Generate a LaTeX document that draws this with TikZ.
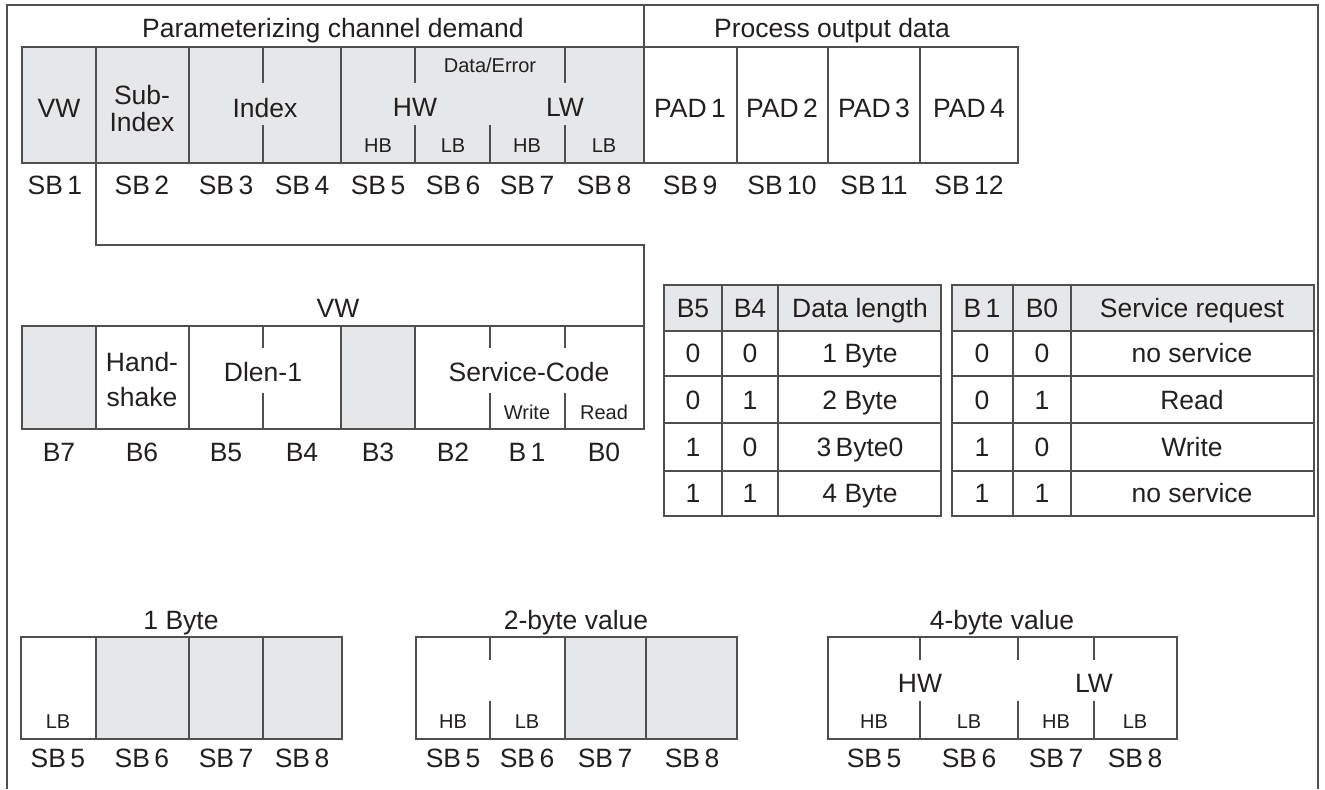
\documentclass[tikz,border=0pt]{standalone}
\usepackage{fontspec}
\setmainfont{Liberation Sans}
\definecolor{linegrey}{HTML}{4F4F4F}
\definecolor{cellgrey}{HTML}{E6E7E8}
\definecolor{ink}{HTML}{231F20}

\begin{document}
\begin{tikzpicture}[
  x=0.5pt, y=-0.5pt,
  every node/.style={inner sep=0pt, text=ink, font=\fontsize{13.25}{16}\selectfont,
    text height=9.5pt, text depth=0pt},
  small/.style={font=\fontsize{10}{12}\selectfont, text height=7.2pt},
  wire/.style={draw=linegrey, line width=0.6pt},
  shade/.style={fill=cellgrey}
]
  \useasboundingbox (0,0) rectangle (1325,789);
  % outer frame
  \draw[wire] (7,789) -- (7,5) -- (1318,5) -- (1318,789);
  \draw[wire] (644,5) -- (644,47);
  \node (hpar) at (333,28) {Parameterizing channel demand};
  \node (hpad) at (832,28) {Process output data};

  % parameterizing channel
  \filldraw[wire, shade] (22,47) rectangle (644,163);
  \foreach \x in {96,189,341} \draw[wire] (\x,47) -- (\x,163);
  \foreach \x in {263,415,565} \draw[wire] (\x,47) -- (\x,83);
  \foreach \x in {263,415,490,565} \draw[wire] (\x,125) -- (\x,163);
  \node (pvw) at (59,108) {VW};
  \node (psub) at (142,95) {Sub-};
  \node (psubidx) at (142,122) {Index};
  \node (pidx) at (265,108) {Index};
  \node[small] (pdata) at (490,65) {Data/Error};
  \node (phw) at (415,107) {HW};
  \node (plw) at (565,107) {LW};
  \foreach \x/\t [count=\i] in {378/HB,453/LB,527/HB,604/LB}
    \node[small] (pbyte\i) at (\x,145) {\t};

  % process output data
  \draw[wire] (644,47) rectangle (1018,163);
  \foreach \x in {737,828,920} \draw[wire] (\x,47) -- (\x,163);
  \foreach \x [count=\i] in {690,782,874,969}
    \node (pad\i) at (\x,108) {PAD\,\i};

  \foreach \x [count=\i] in {55,142,226,302,378,453,527,604,690,782,874,969}
    \node (sb\i) at (\x,185) {SB\,\i};

  % VW detail
  \coordinate (hook) at (96,163);
  \coordinate (bend) at (96,245);
  \coordinate (vwcorner) at (644,326);
  \draw[wire] (hook) -- (bend) -| (vwcorner);
  \node (vwhead) at (338,308) {VW};
  \draw[wire] (22,326) rectangle (644,429);
  \filldraw[wire, shade] (22,326) rectangle (96,429);
  \filldraw[wire, shade] (341,326) rectangle (415,429);
  \draw[wire] (189,326) -- (189,429);
  \foreach \x in {263,490,565} {
    \draw[wire] (\x,326) -- (\x,348);
    \draw[wire] (\x,393) -- (\x,429);
  }
  \node (hand) at (142,362) {Hand-};
  \node (shake) at (142,397) {shake};
  \node (dlen) at (263,372) {Dlen-1};
  \node (scode) at (529,372) {Service-Code};
  \node[small] (wr) at (527,412) {Write};
  \node[small] (rd) at (604,412) {Read};
  \foreach \x/\t in {59/7,142/6,226/5,302/4,378/3,453/2,527/\,1,604/0}
    \node (bit\x) at (\x,452) {B\t};

  % data length table
  \filldraw[wire, shade] (664,285) rectangle (941,331);
  \draw[wire] (664,285) rectangle (941,516);
  \foreach \y in {376,423,471} \draw[wire] (664,\y) -- (941,\y);
  \foreach \x in {722,778} \draw[wire] (\x,285) -- (\x,516);
  \node (dla) at (693,308) {B5};
  \node (dlb) at (750,308) {B4};
  \node (dlc) at (860,308) {Data length};
  \foreach \y/\a/\b/\c [count=\r] in {353/0/0/1 Byte,400/0/1/2 Byte,447/1/0/3\,Byte0,493/1/1/4 Byte} {
    \node (dl\r a) at (693,\y) {\a};
    \node (dl\r b) at (750,\y) {\b};
    \node (dl\r c) at (860,\y) {\c};
  }

  % service request table
  \filldraw[wire, shade] (952,285) rectangle (1314,331);
  \draw[wire] (952,285) rectangle (1314,516);
  \foreach \y in {376,423,471} \draw[wire] (952,\y) -- (1314,\y);
  \foreach \x in {1013,1071} \draw[wire] (\x,285) -- (\x,516);
  \node (sra) at (982,308) {B\,1};
  \node (srb) at (1042,308) {B0};
  \node (src) at (1192,308) {Service request};
  \foreach \y/\a/\b/\c [count=\r] in {353/0/0/no service,400/0/1/Read,447/1/0/Write,493/1/1/no service} {
    \node (sr\r a) at (982,\y) {\a};
    \node (sr\r b) at (1042,\y) {\b};
    \node (sr\r c) at (1192,\y) {\c};
  }

  % 1 byte
  \node (onehead) at (181,620) {1 Byte};
  \filldraw[wire, shade] (96,637) rectangle (342,739);
  \draw[wire] (21,637) rectangle (342,739);
  \foreach \x in {189,263} \draw[wire] (\x,637) -- (\x,739);
  \node[small] (onelb) at (58,721) {LB};
  \foreach \x [count=\i from 5] in {58,142,226,302}
    \node (onesb\i) at (\x,758) {SB\,\i};

  % 2 byte
  \node (twohead) at (576,620) {2-byte value};
  \filldraw[wire, shade] (565,637) rectangle (737,739);
  \draw[wire] (416,637) rectangle (737,739);
  \draw[wire] (646,637) -- (646,739);
  \draw[wire] (490,637) -- (490,660);
  \draw[wire] (490,701) -- (490,739);
  \node[small] (twohb) at (453,721) {HB};
  \node[small] (twolb) at (527,721) {LB};
  \foreach \x [count=\i from 5] in {453,527,605,692}
    \node (twosb\i) at (\x,758) {SB\,\i};

  % 4 byte
  \node (fourhead) at (1002,620) {4-byte value};
  \draw[wire] (828,637) rectangle (1177,739);
  \foreach \x in {920,1018,1094} {
    \draw[wire] (\x,637) -- (\x,660);
    \draw[wire] (\x,701) -- (\x,739);
  }
  \node (fourhw) at (920,683) {HW};
  \node (fourlw) at (1094,683) {LW};
  \foreach \x/\t [count=\i] in {874/HB,969/LB,1056/HB,1135/LB}
    \node[small] (fourbyte\i) at (\x,721) {\t};
  \foreach \x [count=\i from 5] in {874,969,1056,1135}
    \node (foursb\i) at (\x,758) {SB\,\i};
\end{tikzpicture}
\end{document}
